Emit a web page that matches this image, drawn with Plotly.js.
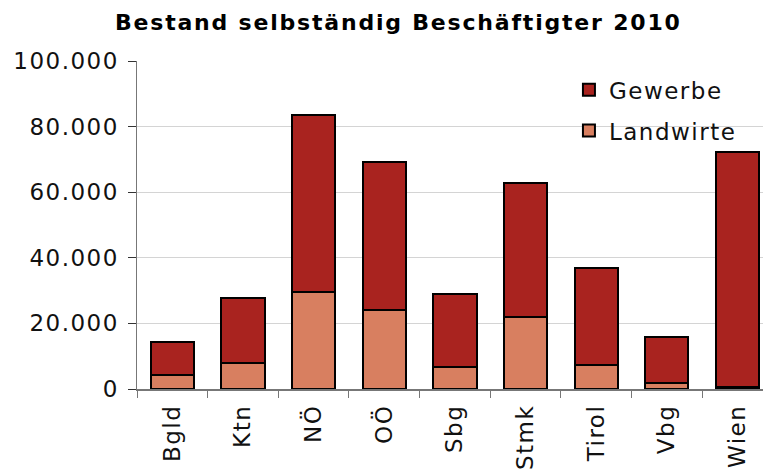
<!DOCTYPE html>
<html><head><meta charset="utf-8">
<script src="https://cdn.plot.ly/plotly-3.0.1.min.js"></script>
<style>html,body{margin:0;padding:0;background:#fff}#chart{width:763px;height:473px}
.gtitle{letter-spacing:1.8px}
.xtick text,.ytick text,.legendtext{letter-spacing:1.5px}
</style>
</head><body><div id="chart"></div>
<script>
const categories = ["Bgld","Ktn","NÖ","OÖ","Sbg","Stmk","Tirol","Vbg","Wien"];
const landwirte = [4200, 7800, 29500, 24000, 6700, 22000, 7200, 1700, 600];
const gewerbe   = [10000, 19800, 53900, 45100, 22300, 40900, 29800, 14300, 71800];
const yTicks = [0, 20000, 40000, 60000, 80000, 100000];

const font = "DejaVu Sans, Verdana, sans-serif";
const traces = [
  {type:"bar", name:"Landwirte", x:categories, y:landwirte, legendgroup:"b", legendrank:2,
   marker:{color:"#D87F60", line:{color:"#000", width:2}}, width:0.61},
  {type:"bar", name:"Gewerbe", x:categories, y:gewerbe, legendgroup:"a", legendrank:1,
   marker:{color:"#A9231F", line:{color:"#000", width:2}}, width:0.61}
];
const layout = {
  width:763, height:473, barmode:"stack", separators:",.",
  paper_bgcolor:"#fff", plot_bgcolor:"#fff",
  margin:{l:137, r:0, t:61, b:84},
  font:{family:font, color:"#111", size:23},
  title:{text:"<b>Bestand selbständig Beschäftigter 2010</b>", x:0.522, xanchor:"center", y:0.952, yanchor:"middle",
         font:{family:font, size:22, color:"#000"}},
  xaxis:{type:"category", range:[-0.5, 8.36], tickson:"boundaries", ticks:"outside", ticklen:7, tickcolor:"#777",
         showline:true, linecolor:"#777", linewidth:1.5, tickangle:-90, showgrid:false, ticklabelstandoff:5,
         tickfont:{family:font, size:23, color:"#111"}},
  yaxis:{range:[0,100000], tickvals:yTicks, tickformat:",d", ticks:"outside", ticklen:8, tickcolor:"#333",
         showline:true, linecolor:"#777", linewidth:1.5, gridcolor:"#d4d4d4", gridwidth:1.2,
         tickfont:{family:font, size:23, color:"#111"}, zeroline:false, ticklabelstandoff:4},
  legend:{x:0.69, y:0.978, xanchor:"left", yanchor:"top", traceorder:"grouped", tracegroupgap:8,
          bgcolor:"rgba(0,0,0,0)", font:{family:font, size:23, color:"#111"}},
  shapes:[{type:"rect", xref:"paper", yref:"paper", x0:0.657, x1:1.0, y0:0.75, y1:0.95,
           fillcolor:"#fff", line:{width:0}, layer:"between"}],
  showlegend:true
};
Plotly.newPlot("chart", traces, layout, {staticPlot:true});
</script></body></html>
